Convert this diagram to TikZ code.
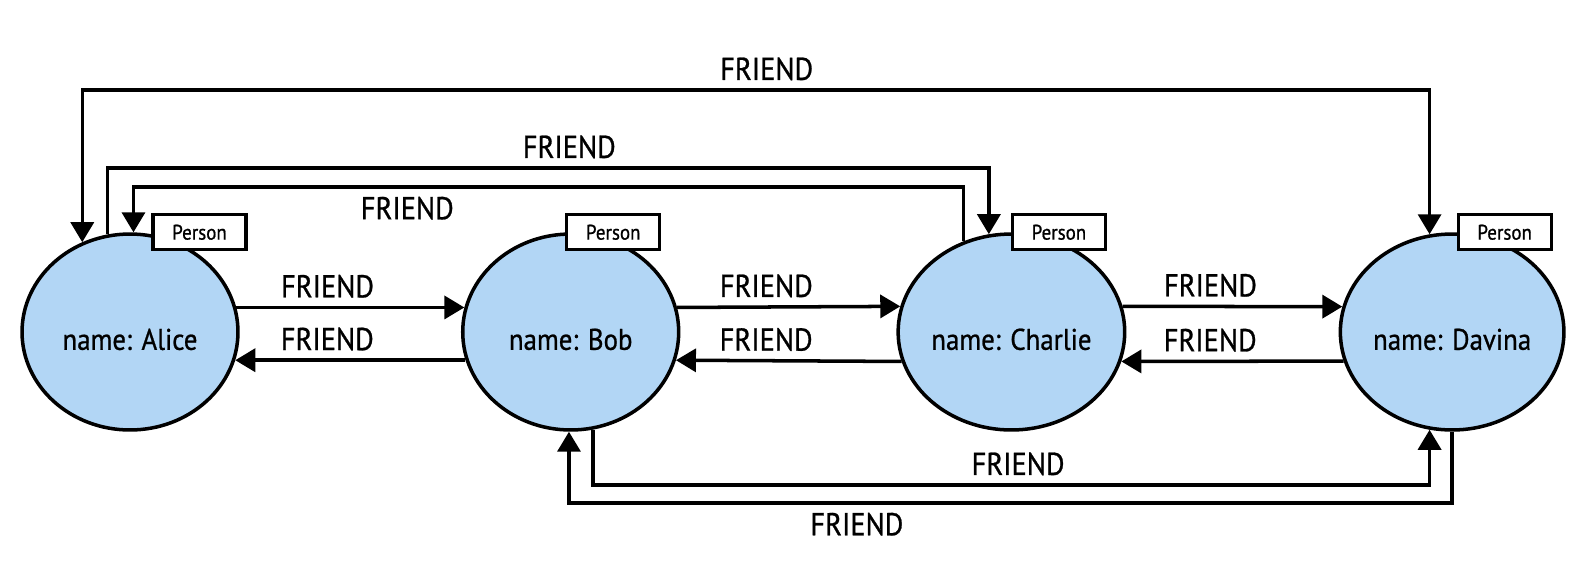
\documentclass[tikz,border=0pt]{standalone}
\usepackage{fontspec}
\setmainfont{PT Sans}[FakeStretch=0.9,FakeBold=0.8]
\usetikzlibrary{arrows.meta,shapes.geometric}
\definecolor{nodeblue}{RGB}{178,214,245}

\begin{document}
\begin{tikzpicture}[x=0.02cm,y=-0.02cm,align=center,node distance=8.816cm]
\tikzstyle{person}=[ellipse,draw=black,line width=2pt,fill=nodeblue,minimum width=4.32cm,minimum height=3.92cm,inner sep=0pt,text height=0.72cm,font=\fontsize{17}{19}\selectfont]
\tikzstyle{labelbox}=[rectangle,draw=black,line width=1.8pt,fill=white,minimum width=1.86cm,minimum height=0.7cm,inner sep=0pt,font=\fontsize{12}{14}\selectfont]
\tikzstyle{friend}=[-{Triangle[length=0.4cm,width=0.46cm]},line width=2pt]
\tikzstyle{mutual}=[{Triangle[length=0.4cm,width=0.46cm]}-{Triangle[length=0.4cm,width=0.46cm]},line width=2pt]
\tikzstyle{rel}=[inner sep=0.16cm,font=\fontsize{18}{20}\selectfont]

\useasboundingbox (0,0) rectangle (1592,562);

\node[person] (alice) at (130,332) {name: Alice};
\node[person] (bob) [right of = alice] {name: Bob};
\node[person] (charlie) [right of = bob] {name: Charlie};
\node[person] (davina) [right of = charlie] {name: Davina};

\node[labelbox] (alicetype) at ([xshift=1.39cm]alice.north) {Person};
\node[labelbox] (bobtype) at ([xshift=0.85cm]bob.north) {Person};
\node[labelbox] (charlietype) at ([xshift=0.95cm]charlie.north) {Person};
\node[labelbox] (davinatype) at ([xshift=1.05cm]davina.north) {Person};

\path
  (alice.13) edge [friend] node[rel,above,pos=0.4] {FRIEND} (bob.167)
  (bob.195) edge [friend] node[rel,above,pos=0.6] {FRIEND} (alice.345)
  (bob.13) edge [friend] node[rel,above,pos=0.4] {FRIEND} (charlie.167)
  (charlie.195) edge [friend] node[rel,above,pos=0.6] {FRIEND} (bob.345)
  (charlie.13) edge [friend] node[rel,above,pos=0.4] {FRIEND} (davina.167)
  (davina.195) edge [friend] node[rel,above,pos=0.6] {FRIEND} (charlie.345);

% over the top
\draw[mutual] (alice.118) -- (alice.118 |- 0,90) -| node[rel,above,pos=0.254] {FRIEND} (davina.103);
\draw[friend] (alice.103) -- (alice.103 |- 0,168) -| node[rel,above,pos=0.262] {FRIEND} (charlie.103);
\draw[friend] (charlie.118) -- (charlie.118 |- 0,187) -| node[rel,below,pos=0.335] {FRIEND} (alice.88);

% underneath
\draw[friend] (bob.283) -- (bob.283 |- 0,485) -| node[rel,above,pos=0.254] {FRIEND} (davina.257);
\draw[friend] (davina.270) -- (davina.270 |- 0,503) -| node[rel,below,pos=0.337] {FRIEND} (bob.269);
\end{tikzpicture}
\end{document}
